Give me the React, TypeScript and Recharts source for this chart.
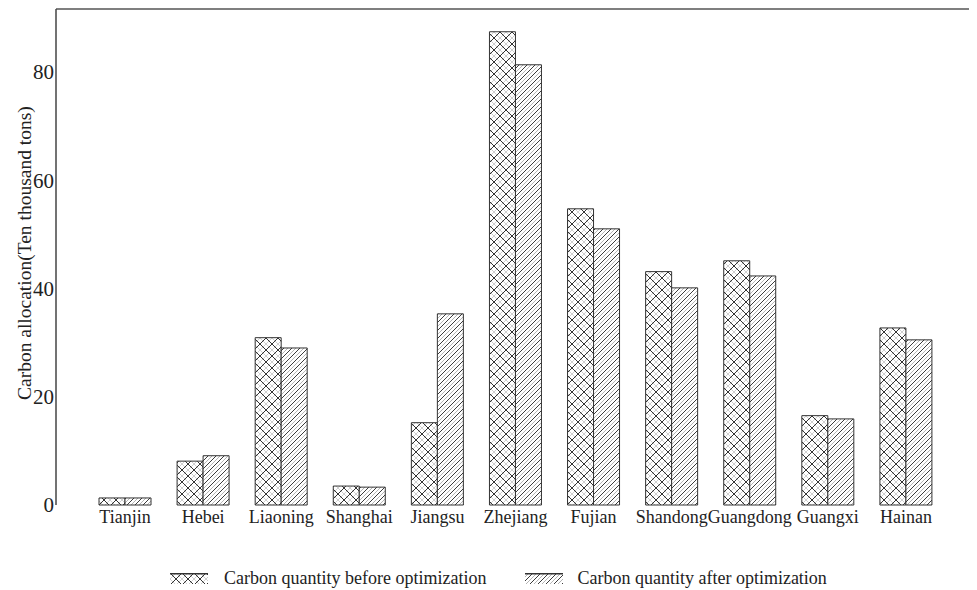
import React from "react";
import { BarChart, Bar, XAxis, YAxis, Legend } from "recharts";

const provinces = [
  "Tianjin",
  "Hebei",
  "Liaoning",
  "Shanghai",
  "Jiangsu",
  "Zhejiang",
  "Fujian",
  "Shandong",
  "Guangdong",
  "Guangxi",
  "Hainan",
];
const beforeValues = [1.3, 8.1, 30.9, 3.5, 15.2, 87.4, 54.7, 43.1, 45.1, 16.5, 32.7];
const afterValues = [1.3, 9.1, 29.0, 3.3, 35.3, 81.3, 51.0, 40.1, 42.3, 15.9, 30.5];
const yTicks = [0, 20, 40, 60, 80];
const legendLabels = [
  "Carbon quantity before optimization",
  "Carbon quantity after optimization",
];

const data = provinces.map((name, i) => ({
  name,
  before: beforeValues[i],
  after: afterValues[i],
}));

const FONT = "'Liberation Serif', 'DejaVu Serif', serif";

const Patterns = ({ suffix = "" }: { suffix?: string }) => (
  <defs>
    <pattern id={`cross${suffix}`} width="12" height="12" patternUnits="userSpaceOnUse">
      <rect width="12" height="12" fill="#fff" />
      <path d="M6,0 L12,6 M0,6 L6,12 M6,0 L0,6 M12,6 L6,12" stroke="#cfcfcf" strokeWidth="1" />
      <path d="M0,0 L12,12 M12,0 L0,12" stroke="#333" strokeWidth="1" />
    </pattern>
    <pattern id={`hatch${suffix}`} width="8" height="8" patternUnits="userSpaceOnUse">
      <rect width="8" height="8" fill="#fff" />
      <path d="M0,4 L4,0 M4,8 L8,4" stroke="#b5b5b5" strokeWidth="1" />
      <path d="M0,8 L8,0 M-2,2 L2,-2 M6,10 L10,6" stroke="#3c3c3c" strokeWidth="1" />
    </pattern>
  </defs>
);

const renderLegend = () => (
  <div
    style={{
      display: "flex",
      alignItems: "center",
      height: 24,
      paddingLeft: 162,
      fontFamily: FONT,
      fontSize: 18,
      color: "#222",
      whiteSpace: "nowrap",
    }}
  >
    {["cross", "hatch"].map((id, i) => (
      <span
        key={id}
        style={{ display: "flex", alignItems: "center", marginLeft: i === 0 ? 0 : 39 }}
      >
        <svg width={38} height={11} style={{ marginRight: i === 0 ? 16 : 14 }}>
          <Patterns suffix={`-lg${i}`} />
          <rect x={0} y={1} width={38} height={10} fill={`url(#${id}-lg${i})`} />
          <line x1={0} y1={0.75} x2={38} y2={0.75} stroke="#333" strokeWidth={1.5} />
        </svg>
        {legendLabels[i]}
      </span>
    ))}
  </div>
);

export default function App() {
  return (
    <BarChart
      width={969}
      height={582}
      data={data}
      margin={{ top: 0, right: 1, bottom: 0, left: 0 }}
      barGap={0}
      barSize={26}
    >
      <Patterns />
      <XAxis
        dataKey="name"
        axisLine={false}
        tickLine={false}
        tickSize={0}
        interval={0}
        padding={{ left: 30, right: 30 }}
        height={61}
        tick={{ fontFamily: FONT, fontSize: 18, fill: "#222" }}
        tickMargin={5}
      />
      <XAxis
        xAxisId="top"
        orientation="top"
        dataKey="name"
        height={1}
        tick={false}
        tickLine={false}
        axisLine={{ stroke: "#555", strokeWidth: 1.5 }}
      />
      <YAxis
        domain={[0, 91.6]}
        ticks={yTicks}
        width={48}
        axisLine={{ stroke: "#444", strokeWidth: 1.5 }}
        tickLine={false}
        tickSize={0}
        tick={{ fontFamily: FONT, fontSize: 21, fill: "#222" }}
        tickMargin={2}
        label={{
          value: "Carbon allocation(Ten thousand tons)",
          angle: -90,
          position: "insideLeft",
          offset: 16,
          dy: 143,
          style: { fontFamily: FONT, fontSize: 19.5, fill: "#222" },
        }}
      />
      <YAxis
        yAxisId="right"
        orientation="right"
        width={1}
        domain={[0, 91.6]}
        tick={false}
        tickLine={false}
        axisLine={{ stroke: "#999", strokeWidth: 1 }}
      />
      <Legend verticalAlign="bottom" height={24} content={renderLegend} />
      <Bar
        dataKey="before"
        fill="url(#cross)"
        stroke="#333"
        strokeWidth={1}
        isAnimationActive={false}
      />
      <Bar
        dataKey="after"
        fill="url(#hatch)"
        stroke="#333"
        strokeWidth={1}
        isAnimationActive={false}
      />
    </BarChart>
  );
}
